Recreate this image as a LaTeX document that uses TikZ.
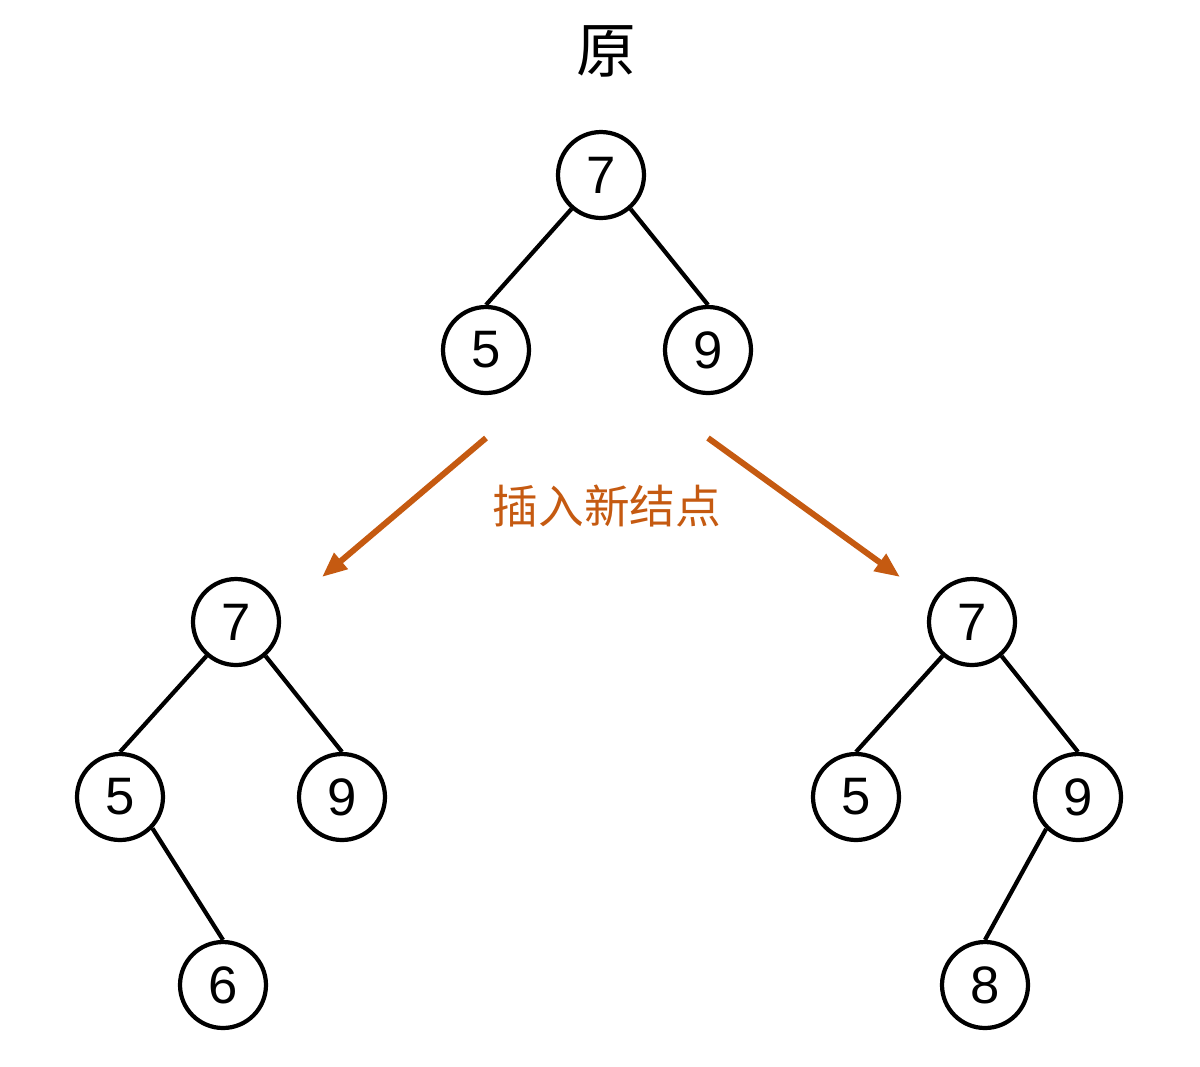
\documentclass[tikz,border=0pt]{standalone}
\usepackage{fontspec}
\setmainfont{Liberation Sans}
\newfontfamily\cjk{Noto Sans CJK SC}
\usetikzlibrary{arrows.meta,positioning}
\definecolor{insorange}{HTML}{C55A11}

\tikzset{
  knot/.style={circle,draw=black,line width=2.4pt,minimum size=1.72cm,inner sep=0pt,
               font=\fontsize{30}{30}\selectfont},
  link/.style={line width=2.4pt,black},
  insarrow/.style={-{Triangle[length=5mm,width=4mm]},line width=3.4pt,insorange}
}

\begin{document}
\begin{tikzpicture}[x=0.02cm,y=-0.02cm]
  \useasboundingbox (0,0) rectangle (1200,1066);
  \node[font=\cjk\fontsize{34}{34}\selectfont] (title) at (606,51) {原};

  % original tree
  \node[knot] (r7) at (601,175) {7};
  \node[knot] (r5) at (486,350) {5};
  \node[knot] (r9) at (708,350) {9};
  \draw[link] (r7.-131) -- (r5.north);
  \draw[link] (r7.-49) -- (r9.north);

  % insertion arrows
  \coordinate (la) at (486,438);
  \coordinate (lb) at (322,577);
  \coordinate (ra) at (708,438);
  \coordinate (rb) at (900,577);
  \draw[insarrow] (la) -- (lb);
  \draw[insarrow] (ra) -- (rb);
  \node[font=\cjk\fontsize{26}{26}\selectfont,text=insorange] (ins) at (607,506) {插入新结点};

  % left result
  \node[knot] (a7) at (236,622) {7};
  \node[knot] (a5) at (120,797) {5};
  \node[knot] (a9) at (342,797) {9};
  \node[knot] (a6) at (223,985) {6};
  \draw[link] (a7.-131) -- (a5.north);
  \draw[link] (a7.-49) -- (a9.north);
  \draw[link] (a5.-44) -- (a6.north);

  % right result
  \node[knot] (b7) at (972,622) {7};
  \node[knot] (b5) at (856,797) {5};
  \node[knot] (b9) at (1078,797) {9};
  \node[knot] (b8) at (985,985) {8};
  \draw[link] (b7.-131) -- (b5.north);
  \draw[link] (b7.-49) -- (b9.north);
  \draw[link] (b9.-135) -- (b8.north);
\end{tikzpicture}
\end{document}
